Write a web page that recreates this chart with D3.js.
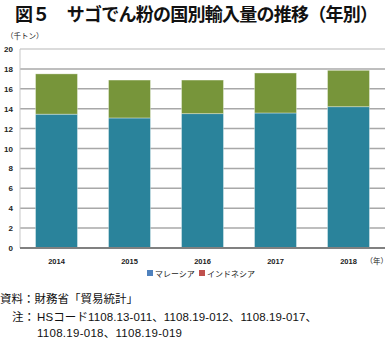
<!DOCTYPE html>
<html>
<head>
<meta charset="utf-8">
<script src="https://cdn.jsdelivr.net/npm/d3@7"></script>
<style>
  html, body { margin: 0; padding: 0; background: #fff; }
  svg { display: block; font-family: "Noto Sans CJK JP", "Noto Sans", sans-serif; }
</style>
</head>
<body>
<svg id="chart" width="389" height="339"></svg>
<script>
// Sago starch imports by country (thousand tonnes)
const years = ["2014", "2015", "2016", "2017", "2018"];
const malaysia = [13.45, 13.07, 13.5, 13.57, 14.2];
const indonesia = [4.05, 3.81, 3.38, 4.02, 3.66];
const yTicks = [0, 2, 4, 6, 8, 10, 12, 14, 16, 18, 20];
const seriesNames = ["マレーシア", "インドネシア"];
const barColors = ["#2a839b", "#77953a"];
const legendColors = ["#4f81bd", "#c0504d"];

const svg = d3.select("#chart");
const margin = { left: 20, right: 4, top: 49, bottom: 91 };
const W = 389, H = 339;
const latinFont = "'Liberation Sans', 'Noto Sans CJK JP', sans-serif";

const x = d3.scaleBand().domain(years).range([margin.left, W - margin.right]).paddingInner(0.425).paddingOuter(0.2125);
const y = d3.scaleLinear().domain([0, 20]).range([H - margin.bottom, margin.top]);

// Title
svg.append("text").attr("x", 15).attr("y", 21)
  .attr("font-size", 18).attr("font-weight", "bold").attr("fill", "#111")
  .attr("textLength", 363).attr("lengthAdjust", "spacing")
  .text("図５　サゴでん粉の国別輸入量の推移（年別）");

// Unit label
svg.append("text").attr("x", 6).attr("y", 39).attr("font-size", 7.5).attr("fill", "#222").text("（千トン）");

// Gridlines
svg.append("g").selectAll("line").data(yTicks.filter(d => d > 0)).join("line")
  .attr("x1", margin.left).attr("x2", W - margin.right)
  .attr("y1", d => y(d)).attr("y2", d => y(d))
  .attr("stroke", d => d === 20 ? "#cfcfcf" : "#a8a8a8").attr("stroke-width", 1.5);

// Left axis line
svg.append("line").attr("x1", margin.left).attr("x2", margin.left)
  .attr("y1", y(20)).attr("y2", y(0)).attr("stroke", "#c8c8c8").attr("stroke-width", 1);

// Stacked bars
const stackData = years.map((yr, i) => ({ year: yr, m: malaysia[i], id: indonesia[i] }));
const stacked = d3.stack().keys(["m", "id"])(stackData);
svg.append("g").selectAll("g").data(stacked).join("g")
  .attr("fill", (d, i) => barColors[i])
  .selectAll("rect").data(d => d).join("rect")
  .attr("x", d => x(d.data.year))
  .attr("width", x.bandwidth())
  .attr("y", d => y(d[1]))
  .attr("height", d => y(d[0]) - y(d[1]))
  .attr("stroke", "rgba(255,255,255,0.45)").attr("stroke-width", 0.8);

// Bottom axis line
svg.append("line").attr("x1", margin.left).attr("x2", W - margin.right)
  .attr("y1", y(0)).attr("y2", y(0)).attr("stroke", "#808080").attr("stroke-width", 2);

// Y tick labels
svg.append("g").selectAll("text").data(yTicks).join("text")
  .attr("x", 13).attr("y", d => y(d) + 3)
  .attr("text-anchor", "end").attr("font-size", 8).attr("font-weight", "bold").attr("fill", "#222")
  .attr("font-family", latinFont)
  .text(d => d);

// X axis labels
svg.append("g").selectAll("text").data(years).join("text")
  .attr("x", d => x(d) + x.bandwidth() / 2).attr("y", 264)
  .attr("text-anchor", "middle").attr("font-size", 7.5).attr("font-weight", "bold").attr("fill", "#222")
  .attr("font-family", latinFont)
  .text(d => d);
svg.append("text").attr("x", 388).attr("y", 264).attr("text-anchor", "end")
  .attr("font-size", 7.5).attr("fill", "#222").text("（年）");

// Legend
const legend = svg.append("g");
const legendX = [147, 199];
seriesNames.forEach((name, i) => {
  legend.append("rect").attr("x", legendX[i]).attr("y", 270).attr("width", 6).attr("height", 6).attr("fill", legendColors[i]);
  legend.append("text").attr("x", legendX[i] + 8).attr("y", 276.5).attr("font-size", 8).attr("fill", "#222").text(name);
});

// Source and notes
const note = (tx, ty, s, len) => {
  const t = svg.append("text").attr("x", tx).attr("y", ty)
    .attr("font-size", 11.5).attr("fill", "#111").attr("font-family", latinFont).text(s);
  if (len) t.attr("textLength", len).attr("lengthAdjust", "spacing");
  return t;
};
note(0, 303, "資料：財務省「貿易統計」");
note(12, 321, "注：");
note(37, 321, "HSコード1108.13-011、1108.19-012、1108.19-017、", 280);
note(37, 337, "1108.19-018、1108.19-019", 145);
</script>
</body>
</html>
